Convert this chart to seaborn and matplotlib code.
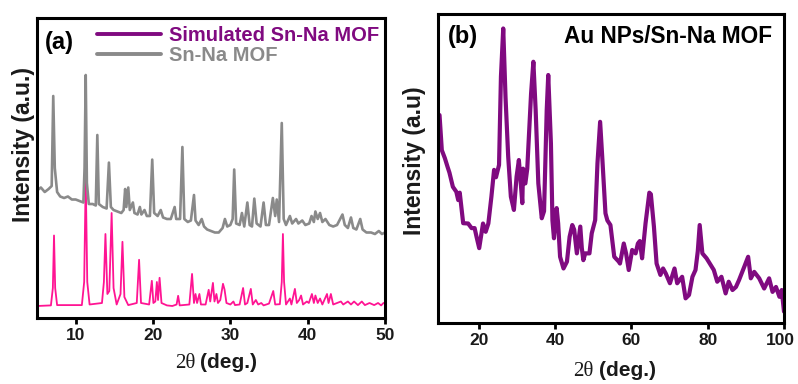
import matplotlib
matplotlib.use("Agg")
import matplotlib.pyplot as plt
from matplotlib.lines import Line2D
import matplotlib.transforms as mtransforms
import seaborn as sns
import pandas as pd

# ---------------- data ----------------
# Panel (a): experimental Sn-Na MOF pattern (grey)
mof_2theta = [5.0, 5.5, 6.0, 6.5, 6.9, 7.1, 7.3, 7.6, 8.0, 8.5, 9.0, 9.5, 10.0, 10.5, 11.0, 11.15, 11.3, 11.45,
              11.7, 12.2, 12.6, 12.8, 13.0, 13.5, 14.0, 14.3, 14.55, 14.9, 15.4, 15.9, 16.2, 16.4, 16.55, 16.8,
              17.0, 17.4, 17.6, 18.0, 18.3, 18.5, 18.9, 19.2, 19.6, 19.9, 20.15, 20.6, 21.0, 21.3, 21.8, 22.3,
              22.8, 23.0, 23.5, 23.8, 24.05, 24.5, 24.9, 25.3, 25.5, 25.9, 26.3, 26.6, 27.0, 27.5, 28.0, 28.5,
              29.0, 29.3, 29.6, 30.0, 30.3, 30.5, 30.75, 31.2, 31.5, 31.8, 32.2, 32.5, 32.8, 33.1, 33.4, 33.9,
              34.3, 34.6, 35.0, 35.5, 35.8, 36.0, 36.3, 36.65, 36.9, 37.2, 37.7, 38.0, 38.5, 38.8, 39.3, 39.7,
              40.2, 40.5, 40.8, 41.0, 41.3, 41.6, 41.9, 42.3, 42.8, 43.3, 43.8, 44.2, 44.5, 44.8, 45.2, 45.6,
              45.9, 46.3, 46.8, 47.1, 47.6, 48.2, 48.7, 49.2, 49.6, 50.0]
mof_int = [42.5, 43.5, 42.0, 43.0, 44.0, 74.0, 50.0, 42.0, 40.5, 40.0, 40.5, 39.5, 39.5, 39.0, 38.5, 50.0, 81.0, 45.0,
           38.0, 38.0, 37.5, 61.0, 38.0, 37.0, 36.5, 51.8, 37.0, 36.0, 35.5, 35.0, 36.0, 43.0, 37.0, 43.5,
           36.0, 38.5, 35.0, 34.5, 37.0, 34.5, 36.0, 34.0, 34.0, 52.8, 35.0, 34.0, 36.0, 33.5, 33.0, 33.0,
           37.0, 33.0, 33.0, 57.0, 33.0, 32.0, 32.5, 41.0, 32.5, 31.0, 33.0, 30.5, 29.5, 29.0, 28.5, 28.5,
           30.0, 33.0, 30.5, 31.0, 33.0, 49.5, 31.5, 31.0, 35.0, 30.5, 38.5, 31.0, 30.5, 39.8, 31.5, 30.5,
           38.5, 31.0, 31.0, 40.0, 34.0, 39.5, 32.0, 65.0, 33.0, 31.0, 34.0, 31.5, 33.0, 31.5, 32.5, 31.0,
           31.5, 34.0, 32.0, 35.5, 33.0, 35.0, 32.0, 33.0, 31.0, 30.5, 31.0, 33.0, 34.5, 31.0, 30.0, 33.5,
           30.0, 29.5, 33.0, 29.5, 28.5, 28.5, 28.0, 29.0, 28.0, 28.5]

# Panel (a): simulated Sn-Na MOF pattern (pink)
sim_2theta = [5.0, 6.8, 7.05, 7.2, 7.35, 7.6, 10.8, 11.1, 11.3, 11.5, 11.8, 13.4, 13.65, 13.85, 14.1, 14.35, 14.65,
              14.9, 15.3, 15.8, 16.05, 16.3, 16.8, 17.9, 18.2, 18.45, 19.5, 19.85, 20.05, 20.3, 20.5, 20.65, 20.85,
              21.1, 21.8, 22.5, 23.05, 23.25, 23.45, 24.7, 25.05, 25.3, 25.5, 25.7, 26.0, 26.2, 26.8, 27.2, 27.4,
              27.75, 27.95, 28.2, 28.4, 28.7, 29.05, 29.25, 29.5, 30.0, 30.4, 30.6, 31.2, 31.65, 31.9, 32.2, 32.65,
              32.9, 33.3, 33.6, 34.0, 34.3, 35.0, 35.55, 35.8, 36.4, 36.65, 36.8, 36.95, 37.2, 37.7, 37.9, 38.35,
              38.6, 38.9, 39.15, 39.4, 39.9, 40.15, 40.55, 40.8, 41.0, 41.3, 41.6, 41.9, 42.5, 42.7, 43.0, 43.3,
              43.8, 44.3, 44.6, 45.2, 45.6, 46.0, 46.5, 47.0, 47.4, 48.0, 48.6, 49.1, 49.5, 49.8, 50.0]
sim_int = [4.0, 4.2, 10.0, 27.5, 10.0, 4.3, 4.3, 12.0, 46.5, 12.0, 4.5, 5.0, 12.0, 28.0, 8.0, 9.0, 35.0,
           10.0, 4.5, 8.0, 25.4, 7.0, 4.3, 5.0, 19.4, 5.0, 4.5, 12.4, 5.0, 5.5, 12.0, 6.0, 13.4,
           5.0, 4.2, 4.0, 4.5, 7.4, 4.2, 4.5, 14.7, 5.0, 8.0, 5.0, 8.0, 4.5, 4.5, 9.4, 5.5,
           11.7, 5.5, 8.0, 5.0, 6.0, 11.4, 9.5, 5.0, 4.5, 5.5, 4.3, 4.5, 10.0, 4.5, 5.0, 9.7,
           4.5, 6.0, 4.5, 5.0, 4.2, 4.8, 9.0, 4.5, 4.6, 12.0, 28.0, 12.0, 4.5, 6.5, 4.5, 9.7,
           5.0, 6.0, 7.5, 4.5, 5.5, 5.0, 8.0, 5.0, 7.5, 5.0, 6.5, 4.5, 8.0, 5.0, 8.0, 4.5,
           5.0, 5.5, 4.5, 5.5, 4.5, 5.5, 4.3, 5.5, 4.3, 5.0, 4.3, 5.0, 4.2, 5.0, 5.0]

# Panel (b): Au NPs/Sn-Na MOF pattern (purple)
au_2theta = [9.7, 10.3, 11.1, 11.8, 12.3, 13.2, 14.1, 14.6, 15.0, 15.9, 17.2, 18.1, 18.9, 19.4, 20.1, 21.1, 21.8,
             22.5, 23.3, 24.0, 24.5, 25.3, 25.8, 26.4, 27.0, 27.7, 28.4, 29.2, 29.9, 30.5, 31.0, 31.4, 31.6,
             32.2, 32.7, 33.7, 34.3, 34.9, 35.6, 36.5, 37.1, 37.8, 38.2, 38.9, 39.3, 39.7, 40.4, 40.8, 41.3,
             42.2, 43.1, 43.8, 44.5, 45.0, 45.7, 46.6, 47.0, 47.4, 47.9, 49.0, 49.6, 50.5, 51.1, 51.8, 52.4,
             53.2, 53.7, 54.5, 55.5, 56.7, 57.0, 58.0, 58.6, 59.3, 60.2, 61.1, 61.7, 62.2, 62.8, 63.7, 64.7,
             65.1, 65.9, 66.6, 67.6, 68.3, 69.0, 70.1, 71.3, 72.0, 73.3, 74.2, 75.1, 76.0, 76.8, 77.4, 77.9,
             78.6, 79.7, 80.8, 81.6, 82.5, 83.6, 84.7, 85.5, 86.5, 87.4, 88.2, 89.6, 90.6, 91.3, 92.2, 93.5,
             94.8, 96.1, 97.0, 97.9, 98.8, 99.4, 100.0]
au_int = [67.2, 55.8, 53.2, 50.4, 48.5, 43.9, 42.3, 39.6, 42.0, 32.1, 32.0, 30.5, 30.5, 27.7, 24.0, 32.0, 29.3,
          32.0, 40.7, 49.4, 47.0, 51.0, 79.7, 95.3, 73.0, 53.7, 40.7, 36.4, 47.2, 52.6, 45.0, 38.6, 49.8,
          45.0, 49.8, 74.2, 84.5, 68.8, 45.0, 33.7, 36.0, 68.8, 80.2, 58.0, 33.0, 27.2, 37.0, 32.0, 21.2,
          17.4, 19.6, 27.7, 31.5, 30.0, 22.3, 31.0, 24.0, 20.1, 22.3, 22.3, 28.8, 33.1, 51.5, 65.0, 52.6,
          35.3, 33.0, 31.5, 21.2, 19.6, 19.0, 25.5, 22.3, 16.9, 23.4, 22.3, 25.5, 26.3, 20.7, 32.0, 42.0,
          41.5, 31.0, 19.0, 15.3, 17.4, 15.8, 12.6, 17.4, 12.6, 14.7, 7.7, 8.8, 14.7, 16.9, 23.0, 31.5,
          22.3, 20.7, 18.5, 16.9, 13.1, 14.7, 9.3, 13.1, 10.4, 11.4, 13.6, 18.0, 21.2, 14.2, 16.3, 14.2,
          10.9, 14.2, 9.8, 11.4, 8.2, 10.4, 3.4]

a_ticks = [10, 20, 30, 40, 50]
b_ticks = [20, 40, 60, 80, 100]
legend_labels = ["Simulated Sn-Na MOF", "Sn-Na MOF"]

# ---------------- styling ----------------
sns.set_theme(style="white")
plt.rcParams["font.family"] = ["Liberation Sans", "DejaVu Sans"]
plt.rcParams["font.weight"] = "bold"

PINK = "#ff1493"
GREY = "#8a8a8a"
PURPLE = "#800a80"
TXT = "#1a1a1a"

fig = plt.figure(figsize=(7.98, 3.84), dpi=100)
fig.patch.set_facecolor("white")
ax1 = fig.add_axes([37 / 798, 1 - 318 / 384, 348 / 798, 300 / 384])
ax2 = fig.add_axes([438 / 798, 1 - 323 / 384, 346 / 798, 309 / 384])

df_mof = pd.DataFrame({"x": mof_2theta, "y": mof_int})
df_sim = pd.DataFrame({"x": sim_2theta, "y": sim_int})
df_au = pd.DataFrame({"x": au_2theta, "y": au_int})

sns.lineplot(data=df_sim, x="x", y="y", ax=ax1, color=PINK, lw=1.3, estimator=None, sort=False)
sns.lineplot(data=df_mof, x="x", y="y", ax=ax1, color=GREY, lw=1.9, estimator=None, sort=False)
sns.lineplot(data=df_au, x="x", y="y", ax=ax2, color=PURPLE, lw=3.0, estimator=None, sort=False)

ax1.set_xlim(5, 50)
ax1.set_ylim(0, 100)
ax2.set_xlim(9.3, 100)
ax2.set_ylim(-0.3, 100)

for ax, ticks in ((ax1, a_ticks), (ax2, b_ticks)):
    ax.set_xticks(ticks)
    ax.set_xticklabels([str(t) for t in ticks], fontsize=12.5, fontweight="bold", color=TXT)
    ax.set_yticks([])
    ax.tick_params(axis="x", direction="out", length=4.5, width=2, color="black", pad=3, bottom=True)
    for s in ax.spines.values():
        s.set_visible(True)
        s.set_color("black")
        s.set_linewidth(2.2)
    ax.set_xlabel("")
    ax.set_ylabel("")
    ax.set_facecolor("white")

# nudge the last tick label of panel (b) left, as in the reference
last = ax2.get_xticklabels()[-1]
last.set_transform(last.get_transform() + mtransforms.ScaledTranslation(-4 / 100, 0, fig.dpi_scale_trans))

ax1.set_ylabel("Intensity (a.u.)", fontsize=16.5, fontweight="bold", color=TXT)
ax1.yaxis.set_label_coords(-0.006, 0.577)
ax2.set_ylabel("Intensity (a.u)", fontsize=16.5, fontweight="bold", color=TXT)
ax2.yaxis.set_label_coords(-0.035, 0.524)

# x labels: serif "2θ" + bold sans "(deg.)"
for xr, yc in ((195, 363), (594, 371)):
    fig.text(xr / 798, 1 - yc / 384, "2θ", ha="right", va="center", fontsize=15,
             family=["Liberation Serif", "DejaVu Serif"], fontweight="normal", color=TXT)
    fig.text((xr + 5) / 798, 1 - yc / 384, "(deg.)", ha="left", va="center", fontsize=15,
             fontweight="bold", color=TXT)

ax1.text(0.022, 0.92, "(a)", transform=ax1.transAxes, ha="left", va="center",
         fontsize=17, fontweight="bold", color="black")
ax2.text(0.029, 0.926, "(b)", transform=ax2.transAxes, ha="left", va="center",
         fontsize=17, fontweight="bold", color="black")
ax2.text(0.965, 0.926, "Au NPs/Sn-Na MOF", transform=ax2.transAxes, ha="right", va="center",
         fontsize=16.3, fontweight="bold", color="black")

handles = [Line2D([], [], color=PURPLE, lw=2.8), Line2D([], [], color=GREY, lw=2.8)]
leg = ax1.legend(handles, legend_labels, loc="upper left", bbox_to_anchor=(0.172, 0.972),
                 frameon=False, borderpad=0, borderaxespad=0, handlelength=3.2,
                 handletextpad=0.4, labelspacing=0.05,
                 prop={"size": 14.5, "weight": "bold"})
for t, c in zip(leg.get_texts(), [PURPLE, GREY]):
    t.set_color(c)

fig.savefig("out.png", dpi=100, facecolor="white")
